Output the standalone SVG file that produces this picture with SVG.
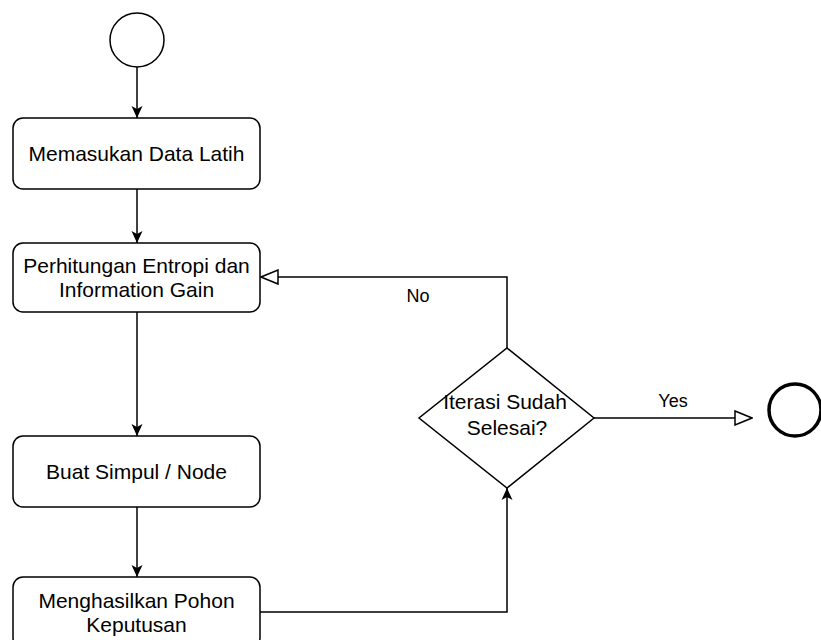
<svg xmlns="http://www.w3.org/2000/svg" width="821" height="640" viewBox="0 0 821 640">
<style>
.box{fill:#fff;stroke:#000;stroke-width:1.5}
.t{font-family:"Liberation Sans",Arial,sans-serif;font-size:21px;fill:#000;text-anchor:middle}
.lbl{font-family:"Liberation Sans",Arial,sans-serif;font-size:18px;fill:#000;text-anchor:middle}
.c{fill:none;stroke:#000;stroke-width:1.5}
</style>
<defs>
<marker id="fa" viewBox="0 0 12 12" refX="12" refY="6" markerWidth="12" markerHeight="12" markerUnits="userSpaceOnUse" orient="auto">
<path d="M0,0.5 L12,6 L0,11.5 L3,6 z" fill="#000"/>
</marker>
<marker id="oa" viewBox="-1 -1 19 16" refX="17" refY="7" markerWidth="19" markerHeight="16" markerUnits="userSpaceOnUse" orient="auto">
<path d="M0,0 L17,7 L0,14 z" fill="#fff" stroke="#000" stroke-width="1.5"/>
</marker>
</defs>
<rect width="821" height="640" fill="#fff"/>
<g id="connectors">
<line class="c" x1="137" y1="67" x2="137" y2="118" marker-end="url(#fa)"/>
<line class="c" x1="137" y1="189" x2="137" y2="243" marker-end="url(#fa)"/>
<line class="c" x1="137" y1="312" x2="137" y2="436" marker-end="url(#fa)"/>
<line class="c" x1="137" y1="507" x2="137" y2="577" marker-end="url(#fa)"/>
<polyline class="c" points="260,612 507,612 507,488" marker-end="url(#fa)"/>
<polyline class="c" points="507,348 507,277 261,277" marker-end="url(#oa)"/>
<line class="c" x1="594" y1="418" x2="752" y2="418" marker-end="url(#oa)"/>
<text class="lbl" x="418" y="302">No</text>
<text class="lbl" x="673" y="407">Yes</text>
</g>
<g id="start"><circle cx="137" cy="40" r="27" fill="#fff" stroke="#000" stroke-width="1.5"/></g>
<g id="n1"><rect class="box" x="13" y="118" width="247" height="71" rx="10"/><text class="t" x="136.5" y="161">Memasukan Data Latih</text></g>
<g id="n2"><rect class="box" x="13" y="243" width="247" height="69" rx="10"/><text class="t" x="136.5" y="273">Perhitungan Entropi dan</text><text class="t" x="136.5" y="297">Information Gain</text></g>
<g id="n3"><rect class="box" x="13" y="436" width="247" height="71" rx="10"/><text class="t" x="136.5" y="479">Buat Simpul / Node</text></g>
<g id="n4"><rect class="box" x="13" y="577" width="247" height="71" rx="10"/><text class="t" x="136.5" y="608">Menghasilkan Pohon</text><text class="t" x="136.5" y="632">Keputusan</text></g>
<g id="decision"><polygon points="507,348 594,418 507,488 419,418" fill="#fff" stroke="#000" stroke-width="1.5"/><text class="t" x="505" y="409">Iterasi Sudah</text><text class="t" x="507" y="435">Selesai?</text></g>
<g id="end"><circle cx="795" cy="410" r="26" fill="#fff" stroke="#000" stroke-width="3.5"/></g>
</svg>
